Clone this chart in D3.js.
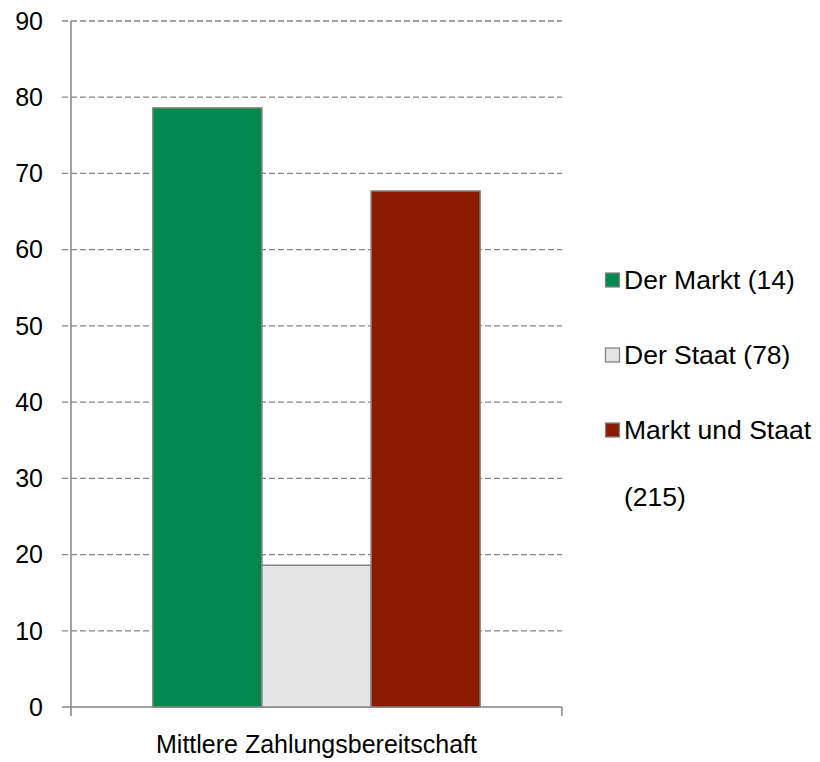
<!DOCTYPE html>
<html>
<head>
<meta charset="utf-8">
<script src="https://cdn.jsdelivr.net/npm/d3@7"></script>
<style>
  body { margin: 0; background: #fff; }
  text { font-family: "Liberation Sans", Arial, sans-serif; fill: #000; }
</style>
</head>
<body>
<script>
var categories = ["Mittlere Zahlungsbereitschaft"];
var seriesNames = ["Der Markt (14)", "Der Staat (78)", "Markt und Staat (215)"];
var legendLines = [["Der Markt (14)"], ["Der Staat (78)"], ["Markt und Staat", "(215)"]];
var seriesValues = [78.6, 18.6, 67.7];
var seriesColors = ["#028a4e", "#e5e5e5", "#8b1c00"];
var yTicks = [0, 10, 20, 30, 40, 50, 60, 70, 80, 90];

var width = 820, height = 762;
var plotLeft = 71, plotRight = 562, plotTop = 21, plotBottom = 707;
var fontSize = 25;

var svg = d3.select("body").append("svg")
    .attr("width", width)
    .attr("height", height);

var y = d3.scaleLinear().domain([0, 90]).range([plotBottom, plotTop]);

var x0 = d3.scaleBand()
    .domain(categories)
    .range([plotLeft, plotRight])
    .paddingInner(0)
    .paddingOuter(0.25);

var x1 = d3.scaleBand()
    .domain(seriesNames)
    .range([0, x0.bandwidth()]);

// gridlines
svg.append("g")
    .selectAll("line")
    .data(yTicks.filter(function(d){ return d > 0; }))
    .enter()
    .append("line")
    .attr("x1", plotLeft - 9)
    .attr("x2", plotRight)
    .attr("y1", function(d){ return y(d); })
    .attr("y2", function(d){ return y(d); })
    .attr("stroke", "#858585")
    .attr("stroke-width", 1.3)
    .attr("stroke-dasharray", "6,3");

// axis lines
svg.append("line")
    .attr("x1", plotLeft).attr("x2", plotLeft)
    .attr("y1", y(90)).attr("y2", y(0))
    .attr("stroke", "#858585").attr("stroke-width", 1.5);

svg.append("line")
    .attr("x1", plotLeft - 9).attr("x2", plotRight)
    .attr("y1", y(0)).attr("y2", y(0))
    .attr("stroke", "#858585").attr("stroke-width", 1.5);

// x ticks at the edges of the category axis
svg.append("g")
    .selectAll("line")
    .data(x0.range())
    .enter()
    .append("line")
    .attr("x1", function(d){ return d; })
    .attr("x2", function(d){ return d; })
    .attr("y1", y(0))
    .attr("y2", y(0) + 9)
    .attr("stroke", "#858585")
    .attr("stroke-width", 1.5);

svg.append("g")
    .selectAll("text")
    .data(yTicks)
    .enter()
    .append("text")
    .attr("x", 43)
    .attr("y", function(d){ return y(d); })
    .attr("dy", "0.35em")
    .attr("text-anchor", "end")
    .attr("font-size", fontSize)
    .text(function(d){ return d; });

// bars
svg.append("g")
    .selectAll("rect")
    .data(seriesValues)
    .enter()
    .append("rect")
    .attr("x", function(d, i){ return x0(categories[0]) + x1(seriesNames[i]); })
    .attr("width", x1.bandwidth())
    .attr("y", function(d){ return y(d); })
    .attr("height", function(d){ return y(0) - y(d); })
    .attr("fill", function(d, i){ return seriesColors[i]; })
    .attr("stroke", "#858585")
    .attr("stroke-width", 1.5);

// category label
svg.append("text")
    .attr("x", x0(categories[0]) + x0.bandwidth() / 2)
    .attr("y", 753)
    .attr("text-anchor", "middle")
    .attr("font-size", fontSize)
    .text(categories[0]);

// legend
var legend = svg.append("g")
    .selectAll("g")
    .data(seriesNames)
    .enter()
    .append("g")
    .attr("transform", function(d, i){ return "translate(605," + (280 + i * 75) + ")"; });

legend.append("rect")
    .attr("x", 0.5)
    .attr("y", -7)
    .attr("width", 14)
    .attr("height", 14)
    .attr("fill", function(d, i){ return seriesColors[i]; })
    .attr("stroke", "#858585")
    .attr("stroke-width", 1.3);

legend.append("text")
    .attr("font-size", 26.5)
    .each(function(d, i){
        var t = d3.select(this);
        legendLines[i].forEach(function(line, j){
            t.append("tspan")
                .attr("x", 19)
                .attr("y", j * 67)
                .attr("dy", "0.35em")
                .text(line);
        });
    });
</script>
</body>
</html>
